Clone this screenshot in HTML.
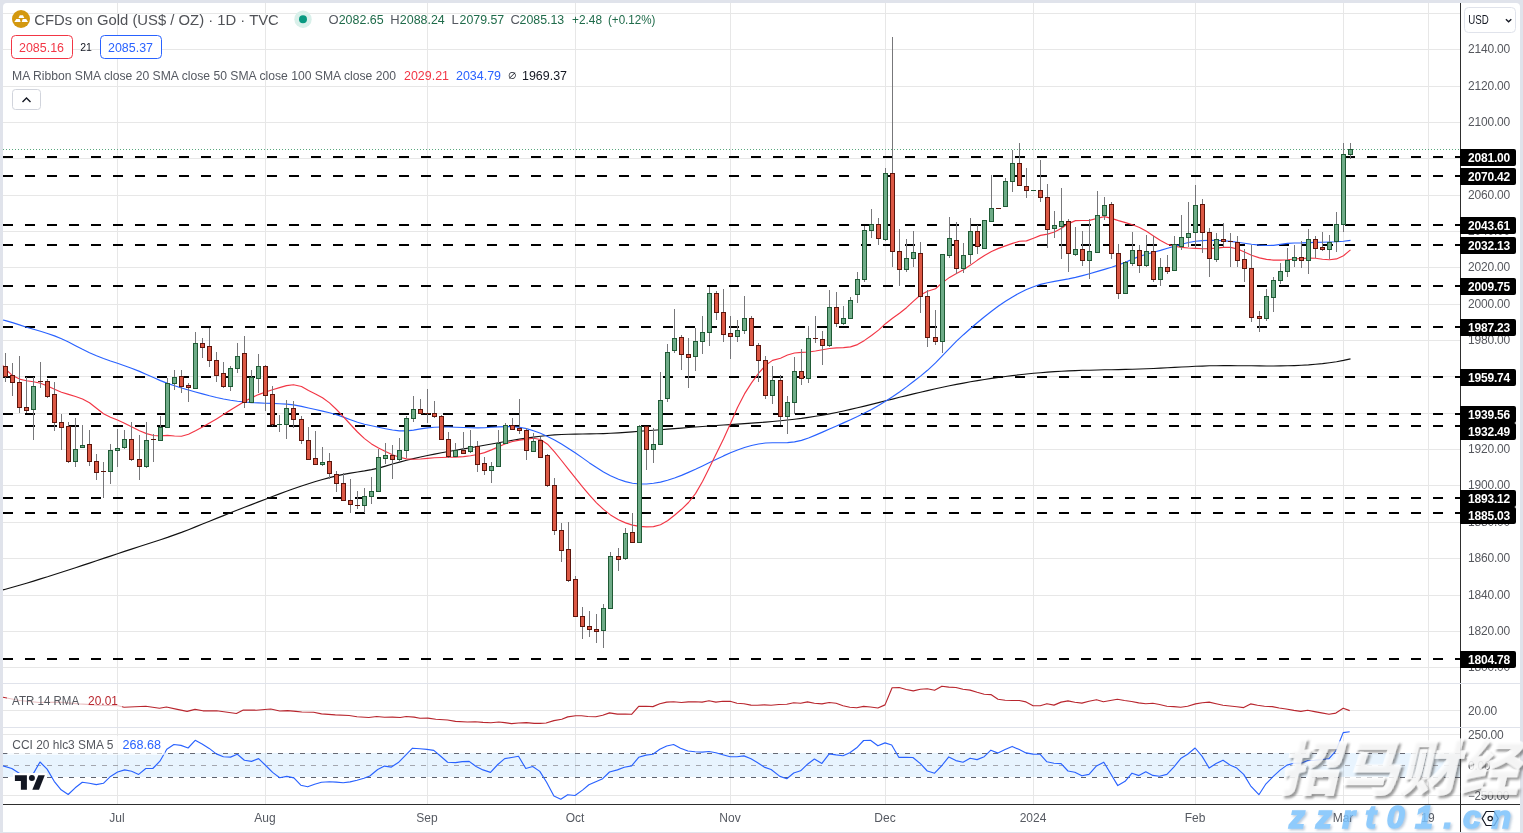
<!DOCTYPE html>
<html><head><meta charset="utf-8"><title>CFDs on Gold (US$ / OZ) 1D TVC</title>
<style>
html,body{margin:0;padding:0;background:#e0e3eb;}
body{width:1523px;height:833px;overflow:hidden;position:relative;font-family:"Liberation Sans","Noto Sans CJK SC",sans-serif;}
svg{position:absolute;left:0;top:0;display:block}
svg text{font-family:"Liberation Sans","Noto Sans CJK SC",sans-serif;}
.al{font-size:12px;fill:#55575d;letter-spacing:-0.2px}
.bl{font-size:12px;fill:#fff;font-weight:bold;letter-spacing:-0.2px}
.tl{font-size:12px;fill:#555961}
.lg{font-size:12px;fill:#54575e}
</style></head><body>
<svg width="1523" height="833" viewBox="0 0 1523 833">
<rect x="0" y="0" width="1523" height="833" fill="#e0e3eb"/>
<path d="M3 7a4 4 0 0 1 4 -4h1509a4 4 0 0 1 4 4v825h-1517z" fill="#fff"/>
<g shape-rendering="crispEdges">
<rect x="3" y="667" width="1457" height="1" fill="#e7e7e7"/>
<rect x="3" y="631" width="1457" height="1" fill="#e7e7e7"/>
<rect x="3" y="595" width="1457" height="1" fill="#e7e7e7"/>
<rect x="3" y="558" width="1457" height="1" fill="#e7e7e7"/>
<rect x="3" y="522" width="1457" height="1" fill="#e7e7e7"/>
<rect x="3" y="485" width="1457" height="1" fill="#e7e7e7"/>
<rect x="3" y="449" width="1457" height="1" fill="#e7e7e7"/>
<rect x="3" y="413" width="1457" height="1" fill="#e7e7e7"/>
<rect x="3" y="376" width="1457" height="1" fill="#e7e7e7"/>
<rect x="3" y="340" width="1457" height="1" fill="#e7e7e7"/>
<rect x="3" y="304" width="1457" height="1" fill="#e7e7e7"/>
<rect x="3" y="267" width="1457" height="1" fill="#e7e7e7"/>
<rect x="3" y="231" width="1457" height="1" fill="#e7e7e7"/>
<rect x="3" y="195" width="1457" height="1" fill="#e7e7e7"/>
<rect x="3" y="158" width="1457" height="1" fill="#e7e7e7"/>
<rect x="3" y="122" width="1457" height="1" fill="#e7e7e7"/>
<rect x="3" y="86" width="1457" height="1" fill="#e7e7e7"/>
<rect x="3" y="49" width="1457" height="1" fill="#e7e7e7"/>
<rect x="3" y="13" width="1457" height="1" fill="#e7e7e7"/>
<rect x="117" y="3" width="1" height="801" fill="#e7e7e7"/>
<rect x="265" y="3" width="1" height="801" fill="#e7e7e7"/>
<rect x="427" y="3" width="1" height="801" fill="#e7e7e7"/>
<rect x="575" y="3" width="1" height="801" fill="#e7e7e7"/>
<rect x="730" y="3" width="1" height="801" fill="#e7e7e7"/>
<rect x="885" y="3" width="1" height="801" fill="#e7e7e7"/>
<rect x="1033" y="3" width="1" height="801" fill="#e7e7e7"/>
<rect x="1195" y="3" width="1" height="801" fill="#e7e7e7"/>
<rect x="1343" y="3" width="1" height="801" fill="#e7e7e7"/>
<rect x="1428" y="3" width="1" height="801" fill="#e7e7e7"/>
<rect x="3" y="710" width="1457" height="1" fill="#e7e7e7"/>
<rect x="3" y="734" width="1457" height="1" fill="#e7e7e7"/>
<rect x="3" y="795" width="1457" height="1" fill="#e7e7e7"/>
</g>
<!-- CCI band -->
<rect x="3" y="753" width="1457" height="24" fill="#2196f3" fill-opacity="0.1"/>
<g stroke-width="1" stroke-dasharray="5 6" shape-rendering="crispEdges">
<line x1="3" y1="753.5" x2="1460" y2="753.5" stroke="#666974"/><line x1="3" y1="765.5" x2="1460" y2="765.5" stroke="#a3a6ae"/><line x1="3" y1="777.5" x2="1460" y2="777.5" stroke="#5f626d"/>
</g>
<line x1="3" y1="149.5" x2="1460" y2="149.5" stroke="#5aa87e" stroke-width="1" stroke-dasharray="1 2" shape-rendering="crispEdges"/>
<line x1="3" y1="659" x2="1460" y2="659" stroke="#000" stroke-width="2" stroke-dasharray="10 12" shape-rendering="crispEdges"/>
<line x1="3" y1="513" x2="1460" y2="513" stroke="#000" stroke-width="2" stroke-dasharray="10 12" shape-rendering="crispEdges"/>
<line x1="3" y1="498" x2="1460" y2="498" stroke="#000" stroke-width="2" stroke-dasharray="10 12" shape-rendering="crispEdges"/>
<line x1="3" y1="426" x2="1460" y2="426" stroke="#000" stroke-width="2" stroke-dasharray="10 12" shape-rendering="crispEdges"/>
<line x1="3" y1="414" x2="1460" y2="414" stroke="#000" stroke-width="2" stroke-dasharray="10 12" shape-rendering="crispEdges"/>
<line x1="3" y1="377" x2="1460" y2="377" stroke="#000" stroke-width="2" stroke-dasharray="10 12" shape-rendering="crispEdges"/>
<line x1="3" y1="327" x2="1460" y2="327" stroke="#000" stroke-width="2" stroke-dasharray="10 12" shape-rendering="crispEdges"/>
<line x1="3" y1="286" x2="1460" y2="286" stroke="#000" stroke-width="2" stroke-dasharray="10 12" shape-rendering="crispEdges"/>
<line x1="3" y1="245" x2="1460" y2="245" stroke="#000" stroke-width="2" stroke-dasharray="10 12" shape-rendering="crispEdges"/>
<line x1="3" y1="225" x2="1460" y2="225" stroke="#000" stroke-width="2" stroke-dasharray="10 12" shape-rendering="crispEdges"/>
<line x1="3" y1="176" x2="1460" y2="176" stroke="#000" stroke-width="2" stroke-dasharray="10 12" shape-rendering="crispEdges"/>
<line x1="3" y1="157" x2="1460" y2="157" stroke="#000" stroke-width="2" stroke-dasharray="10 12" shape-rendering="crispEdges"/>
<polyline points="3.0,589.9 5.5,589.2 12.5,587.2 19.5,585.2 26.5,583.2 33.5,581.1 40.5,578.9 47.5,576.8 54.5,574.5 61.5,572.3 68.5,570.0 75.5,567.7 82.5,565.4 89.5,563.1 96.5,560.8 103.5,558.4 110.5,556.1 117.5,553.8 124.5,551.4 131.5,549.1 139.5,546.5 146.5,544.2 153.5,542.0 160.5,539.7 167.5,537.4 174.5,534.9 181.5,532.4 188.5,529.7 195.5,526.9 202.5,524.0 209.5,521.2 216.5,518.4 223.5,515.6 230.5,512.8 237.5,510.0 244.5,507.3 251.5,504.6 258.5,501.9 265.5,499.2 272.5,496.5 279.5,493.9 286.5,491.3 293.5,488.8 301.5,486.0 308.5,483.7 315.5,481.5 322.5,479.5 329.5,477.6 336.5,475.9 343.5,474.4 350.5,473.1 357.5,472.0 364.5,470.9 371.5,469.6 378.5,468.1 385.5,466.1 392.5,464.0 399.5,462.1 406.5,460.3 413.5,458.6 420.5,457.0 427.5,455.5 434.5,454.1 441.5,452.8 448.5,451.5 455.5,450.3 463.5,448.9 470.5,447.7 477.5,446.5 484.5,445.2 491.5,444.0 498.5,442.7 505.5,441.5 512.5,440.3 519.5,439.1 526.5,438.1 533.5,437.1 540.5,436.2 547.5,435.5 554.5,434.9 561.5,434.5 568.5,434.3 575.5,434.1 582.5,434.0 589.5,433.9 596.5,433.8 603.5,433.6 610.5,433.3 618.5,432.9 625.5,432.4 632.5,431.9 639.5,431.3 646.5,430.8 653.5,430.2 660.5,429.7 667.5,429.1 674.5,428.6 681.5,428.1 688.5,427.5 695.5,427.0 702.5,426.5 709.5,426.0 716.5,425.5 723.5,425.0 730.5,424.6 737.5,424.1 744.5,423.6 751.5,423.1 758.5,422.6 765.5,422.1 772.5,421.5 780.5,420.7 787.5,420.0 794.5,419.2 801.5,418.4 808.5,417.4 815.5,416.3 822.5,415.2 829.5,413.9 836.5,412.5 843.5,411.0 850.5,409.4 857.5,407.8 864.5,406.1 871.5,404.4 878.5,402.6 885.5,400.8 892.5,399.1 899.5,397.3 906.5,395.6 913.5,393.9 920.5,392.2 927.5,390.6 935.5,388.8 942.5,387.3 949.5,385.8 956.5,384.4 963.5,383.1 970.5,381.8 977.5,380.6 984.5,379.5 991.5,378.4 998.5,377.4 1005.5,376.5 1012.5,375.6 1019.5,374.8 1026.5,374.0 1033.5,373.3 1040.5,372.7 1047.5,372.1 1054.5,371.6 1061.5,371.2 1068.5,370.9 1075.5,370.6 1082.5,370.3 1089.5,370.2 1097.5,370.0 1104.5,369.8 1111.5,369.7 1118.5,369.6 1125.5,369.4 1132.5,369.2 1139.5,369.0 1146.5,368.8 1153.5,368.5 1160.5,368.1 1167.5,367.8 1174.5,367.4 1181.5,367.0 1188.5,366.7 1195.5,366.3 1202.5,366.1 1209.5,365.8 1216.5,365.7 1223.5,365.6 1230.5,365.6 1237.5,365.7 1244.5,365.7 1251.5,365.8 1259.5,365.9 1266.5,366.0 1273.5,366.0 1280.5,365.9 1287.5,365.8 1294.5,365.6 1301.5,365.3 1308.5,364.9 1315.5,364.3 1322.5,363.6 1329.5,362.7 1336.5,361.7 1343.5,360.4 1350.5,358.9" fill="none" stroke="#111" stroke-width="1.15" stroke-linejoin="round" />
<polyline points="3.0,320.0 5.5,320.6 12.5,322.6 19.5,324.9 26.5,327.2 33.5,329.3 40.5,331.3 47.5,333.5 54.5,335.9 61.5,338.8 68.5,342.1 75.5,345.7 82.5,349.3 89.5,352.7 96.5,355.7 103.5,358.5 110.5,361.0 117.5,363.3 124.5,365.7 131.5,368.2 139.5,371.4 146.5,374.5 153.5,377.5 160.5,380.6 167.5,383.4 174.5,385.8 181.5,388.0 188.5,390.0 195.5,392.0 202.5,393.9 209.5,395.8 216.5,397.5 223.5,399.0 230.5,400.3 237.5,401.3 244.5,402.0 251.5,402.6 258.5,402.9 265.5,403.2 272.5,403.4 279.5,403.7 286.5,404.1 293.5,404.9 301.5,406.4 308.5,408.0 315.5,409.5 322.5,411.1 329.5,412.8 336.5,414.7 343.5,417.1 350.5,419.7 357.5,422.2 364.5,424.2 371.5,425.8 378.5,427.3 385.5,428.7 392.5,430.0 399.5,430.9 406.5,430.9 413.5,430.1 420.5,428.9 427.5,427.9 434.5,427.2 441.5,427.0 448.5,427.0 455.5,427.2 463.5,427.5 470.5,427.8 477.5,427.9 484.5,427.7 491.5,427.3 498.5,426.9 505.5,426.6 512.5,426.7 519.5,427.3 526.5,428.6 533.5,430.7 540.5,433.3 547.5,436.5 554.5,440.1 561.5,444.1 568.5,448.4 575.5,453.1 582.5,457.9 589.5,462.9 596.5,467.6 603.5,472.0 610.5,475.8 618.5,479.3 625.5,481.6 632.5,483.2 639.5,484.0 646.5,484.0 653.5,483.3 660.5,482.1 667.5,480.3 674.5,478.0 681.5,475.4 688.5,472.4 695.5,469.3 702.5,465.9 709.5,462.6 716.5,459.2 723.5,455.9 730.5,452.8 737.5,450.0 744.5,447.5 751.5,445.5 758.5,444.0 765.5,443.0 772.5,442.7 780.5,442.7 787.5,442.6 794.5,441.9 801.5,440.4 808.5,438.0 815.5,435.1 822.5,432.1 829.5,429.0 836.5,426.0 843.5,422.9 850.5,419.8 857.5,416.5 864.5,413.0 871.5,409.4 878.5,405.5 885.5,401.3 892.5,396.8 899.5,392.0 906.5,386.9 913.5,381.5 920.5,376.1 927.5,370.3 935.5,362.9 942.5,355.7 949.5,348.3 956.5,341.2 963.5,334.7 970.5,328.5 977.5,322.5 984.5,316.7 991.5,311.2 998.5,306.0 1005.5,301.2 1012.5,296.9 1019.5,292.9 1026.5,289.5 1033.5,286.7 1040.5,284.4 1047.5,282.7 1054.5,281.4 1061.5,280.1 1068.5,278.9 1075.5,277.4 1082.5,275.6 1089.5,273.7 1097.5,271.4 1104.5,269.4 1111.5,267.3 1118.5,264.9 1125.5,262.2 1132.5,259.1 1139.5,256.4 1146.5,254.2 1153.5,252.3 1160.5,250.4 1167.5,248.3 1174.5,246.2 1181.5,244.2 1188.5,242.5 1195.5,241.3 1202.5,240.6 1209.5,240.3 1216.5,240.4 1223.5,240.8 1230.5,241.4 1237.5,242.2 1244.5,243.2 1251.5,244.2 1259.5,245.1 1266.5,245.5 1273.5,245.4 1280.5,244.4 1287.5,243.4 1294.5,243.0 1301.5,242.9 1308.5,242.6 1315.5,242.4 1322.5,242.2 1329.5,242.0 1336.5,241.8 1343.5,241.3 1350.5,240.4" fill="none" stroke="#2962ff" stroke-width="1.15" stroke-linejoin="round" />
<polyline points="3.0,365.6 5.5,369.0 12.5,375.6 19.5,379.1 26.5,380.7 33.5,381.7 40.5,383.2 47.5,386.0 54.5,389.3 61.5,392.2 68.5,394.4 75.5,396.5 82.5,399.0 89.5,402.8 96.5,408.3 103.5,413.7 110.5,417.2 117.5,420.0 124.5,423.2 131.5,426.8 139.5,430.7 146.5,433.6 153.5,435.5 160.5,435.9 167.5,435.4 174.5,436.0 181.5,436.2 188.5,434.2 195.5,430.7 202.5,427.0 209.5,423.0 216.5,418.9 223.5,414.6 230.5,410.1 237.5,405.7 244.5,401.5 251.5,397.8 258.5,394.6 265.5,392.0 272.5,389.7 279.5,387.6 286.5,385.6 293.5,384.7 301.5,386.5 308.5,390.5 315.5,393.9 322.5,397.7 329.5,402.9 336.5,409.5 343.5,416.8 350.5,424.5 357.5,432.0 364.5,438.6 371.5,443.9 378.5,448.0 385.5,451.5 392.5,454.7 399.5,457.3 406.5,458.9 413.5,459.3 420.5,459.0 427.5,458.4 434.5,457.8 441.5,457.5 448.5,457.3 455.5,457.1 463.5,456.6 470.5,455.8 477.5,454.5 484.5,452.6 491.5,449.9 498.5,446.8 505.5,443.7 512.5,441.5 519.5,440.1 526.5,439.1 533.5,438.3 540.5,439.5 547.5,444.2 554.5,451.9 561.5,460.5 568.5,469.3 575.5,478.2 582.5,486.9 589.5,495.2 596.5,502.8 603.5,509.4 610.5,514.9 618.5,519.8 625.5,522.9 632.5,525.1 639.5,526.4 646.5,526.9 653.5,526.6 660.5,524.7 667.5,520.8 674.5,515.3 681.5,509.3 688.5,502.5 695.5,493.6 702.5,481.5 709.5,467.4 716.5,453.2 723.5,438.9 730.5,423.5 737.5,407.5 744.5,393.9 751.5,382.9 758.5,373.4 765.5,365.4 772.5,360.4 780.5,358.2 787.5,355.0 794.5,353.0 801.5,352.4 808.5,352.0 815.5,351.0 822.5,349.7 829.5,348.5 836.5,347.9 843.5,347.6 850.5,346.9 857.5,344.6 864.5,340.4 871.5,335.5 878.5,330.1 885.5,323.7 892.5,318.2 899.5,313.2 906.5,307.7 913.5,301.1 920.5,295.0 927.5,291.3 935.5,288.7 942.5,282.6 949.5,277.4 956.5,273.6 963.5,269.7 970.5,265.1 977.5,260.1 984.5,255.4 991.5,251.5 998.5,248.4 1005.5,245.9 1012.5,243.4 1019.5,241.3 1026.5,240.9 1033.5,238.2 1040.5,235.4 1047.5,234.1 1054.5,232.0 1061.5,228.2 1068.5,223.6 1075.5,220.6 1082.5,220.5 1089.5,220.4 1097.5,218.2 1104.5,216.6 1111.5,218.4 1118.5,220.6 1125.5,222.6 1132.5,224.8 1139.5,227.5 1146.5,231.3 1153.5,235.9 1160.5,240.6 1167.5,244.3 1174.5,246.3 1181.5,247.4 1188.5,248.0 1195.5,248.4 1202.5,248.7 1209.5,248.6 1216.5,248.1 1223.5,247.4 1230.5,247.4 1237.5,249.0 1244.5,252.0 1251.5,255.2 1259.5,257.9 1266.5,259.4 1273.5,260.1 1280.5,260.1 1287.5,259.7 1294.5,259.0 1301.5,258.5 1308.5,258.1 1315.5,258.3 1322.5,259.2 1329.5,259.8 1336.5,258.9 1343.5,255.7 1350.5,249.9" fill="none" stroke="#f23645" stroke-width="1.15" stroke-linejoin="round" />
<g shape-rendering="crispEdges">
<rect x="5" y="353" width="1" height="29" fill="#77777a"/>
<rect x="3" y="366" width="5" height="11" fill="#5c150c"/>
<rect x="4" y="367" width="3" height="9" fill="#dc5844"/>
<rect x="12" y="363" width="1" height="33" fill="#77777a"/>
<rect x="10" y="375" width="5" height="8" fill="#5c150c"/>
<rect x="11" y="376" width="3" height="6" fill="#dc5844"/>
<rect x="19" y="356" width="1" height="57" fill="#77777a"/>
<rect x="17" y="382" width="5" height="26" fill="#5c150c"/>
<rect x="18" y="383" width="3" height="24" fill="#dc5844"/>
<rect x="26" y="377" width="1" height="36" fill="#77777a"/>
<rect x="24" y="407" width="5" height="4" fill="#5c150c"/>
<rect x="25" y="408" width="3" height="2" fill="#dc5844"/>
<rect x="33" y="377" width="1" height="63" fill="#77777a"/>
<rect x="31" y="386" width="5" height="24" fill="#1f5a35"/>
<rect x="32" y="387" width="3" height="22" fill="#6eab87"/>
<rect x="40" y="362" width="1" height="26" fill="#77777a"/>
<rect x="38" y="381" width="5" height="1" fill="#5c150c"/>
<rect x="47" y="379" width="1" height="19" fill="#77777a"/>
<rect x="45" y="381" width="5" height="16" fill="#5c150c"/>
<rect x="46" y="382" width="3" height="14" fill="#dc5844"/>
<rect x="54" y="382" width="1" height="49" fill="#77777a"/>
<rect x="52" y="394" width="5" height="29" fill="#5c150c"/>
<rect x="53" y="395" width="3" height="27" fill="#dc5844"/>
<rect x="61" y="414" width="1" height="36" fill="#77777a"/>
<rect x="59" y="422" width="5" height="6" fill="#5c150c"/>
<rect x="60" y="423" width="3" height="4" fill="#dc5844"/>
<rect x="68" y="422" width="1" height="41" fill="#77777a"/>
<rect x="66" y="426" width="5" height="36" fill="#5c150c"/>
<rect x="67" y="427" width="3" height="34" fill="#dc5844"/>
<rect x="75" y="418" width="1" height="49" fill="#77777a"/>
<rect x="73" y="449" width="5" height="13" fill="#1f5a35"/>
<rect x="74" y="450" width="3" height="11" fill="#6eab87"/>
<rect x="82" y="425" width="1" height="23" fill="#77777a"/>
<rect x="80" y="445" width="5" height="3" fill="#1f5a35"/>
<rect x="81" y="446" width="3" height="1" fill="#6eab87"/>
<rect x="89" y="430" width="1" height="36" fill="#77777a"/>
<rect x="87" y="444" width="5" height="18" fill="#5c150c"/>
<rect x="88" y="445" width="3" height="16" fill="#dc5844"/>
<rect x="96" y="454" width="1" height="26" fill="#77777a"/>
<rect x="94" y="461" width="5" height="12" fill="#5c150c"/>
<rect x="95" y="462" width="3" height="10" fill="#dc5844"/>
<rect x="103" y="462" width="1" height="36" fill="#77777a"/>
<rect x="101" y="471" width="5" height="1" fill="#5c150c"/>
<rect x="110" y="444" width="1" height="40" fill="#77777a"/>
<rect x="108" y="450" width="5" height="22" fill="#1f5a35"/>
<rect x="109" y="451" width="3" height="20" fill="#6eab87"/>
<rect x="117" y="429" width="1" height="38" fill="#77777a"/>
<rect x="115" y="448" width="5" height="3" fill="#1f5a35"/>
<rect x="116" y="449" width="3" height="1" fill="#6eab87"/>
<rect x="124" y="430" width="1" height="19" fill="#77777a"/>
<rect x="122" y="439" width="5" height="9" fill="#1f5a35"/>
<rect x="123" y="440" width="3" height="7" fill="#6eab87"/>
<rect x="131" y="422" width="1" height="39" fill="#77777a"/>
<rect x="129" y="439" width="5" height="21" fill="#5c150c"/>
<rect x="130" y="440" width="3" height="19" fill="#dc5844"/>
<rect x="139" y="435" width="1" height="45" fill="#77777a"/>
<rect x="137" y="459" width="5" height="8" fill="#5c150c"/>
<rect x="138" y="460" width="3" height="6" fill="#dc5844"/>
<rect x="146" y="422" width="1" height="46" fill="#77777a"/>
<rect x="144" y="440" width="5" height="27" fill="#1f5a35"/>
<rect x="145" y="441" width="3" height="25" fill="#6eab87"/>
<rect x="153" y="434" width="1" height="28" fill="#77777a"/>
<rect x="151" y="439" width="5" height="1" fill="#5c150c"/>
<rect x="160" y="416" width="1" height="25" fill="#77777a"/>
<rect x="158" y="427" width="5" height="14" fill="#1f5a35"/>
<rect x="159" y="428" width="3" height="12" fill="#6eab87"/>
<rect x="167" y="378" width="1" height="50" fill="#77777a"/>
<rect x="165" y="383" width="5" height="45" fill="#1f5a35"/>
<rect x="166" y="384" width="3" height="43" fill="#6eab87"/>
<rect x="174" y="370" width="1" height="20" fill="#77777a"/>
<rect x="172" y="377" width="5" height="7" fill="#1f5a35"/>
<rect x="173" y="378" width="3" height="5" fill="#6eab87"/>
<rect x="181" y="370" width="1" height="23" fill="#77777a"/>
<rect x="179" y="376" width="5" height="11" fill="#5c150c"/>
<rect x="180" y="377" width="3" height="9" fill="#dc5844"/>
<rect x="188" y="383" width="1" height="19" fill="#77777a"/>
<rect x="186" y="385" width="5" height="3" fill="#5c150c"/>
<rect x="187" y="386" width="3" height="1" fill="#dc5844"/>
<rect x="195" y="332" width="1" height="57" fill="#77777a"/>
<rect x="193" y="343" width="5" height="46" fill="#1f5a35"/>
<rect x="194" y="344" width="3" height="44" fill="#6eab87"/>
<rect x="202" y="338" width="1" height="20" fill="#77777a"/>
<rect x="200" y="343" width="5" height="5" fill="#5c150c"/>
<rect x="201" y="344" width="3" height="3" fill="#dc5844"/>
<rect x="209" y="328" width="1" height="39" fill="#77777a"/>
<rect x="207" y="346" width="5" height="15" fill="#5c150c"/>
<rect x="208" y="347" width="3" height="13" fill="#dc5844"/>
<rect x="216" y="352" width="1" height="30" fill="#77777a"/>
<rect x="214" y="360" width="5" height="16" fill="#5c150c"/>
<rect x="215" y="361" width="3" height="14" fill="#dc5844"/>
<rect x="223" y="362" width="1" height="26" fill="#77777a"/>
<rect x="221" y="373" width="5" height="14" fill="#5c150c"/>
<rect x="222" y="374" width="3" height="12" fill="#dc5844"/>
<rect x="230" y="366" width="1" height="25" fill="#77777a"/>
<rect x="228" y="368" width="5" height="19" fill="#1f5a35"/>
<rect x="229" y="369" width="3" height="17" fill="#6eab87"/>
<rect x="237" y="343" width="1" height="30" fill="#77777a"/>
<rect x="235" y="356" width="5" height="13" fill="#1f5a35"/>
<rect x="236" y="357" width="3" height="11" fill="#6eab87"/>
<rect x="244" y="336" width="1" height="72" fill="#77777a"/>
<rect x="242" y="353" width="5" height="50" fill="#5c150c"/>
<rect x="243" y="354" width="3" height="48" fill="#dc5844"/>
<rect x="251" y="370" width="1" height="33" fill="#77777a"/>
<rect x="249" y="377" width="5" height="26" fill="#1f5a35"/>
<rect x="250" y="378" width="3" height="24" fill="#6eab87"/>
<rect x="258" y="354" width="1" height="39" fill="#77777a"/>
<rect x="256" y="366" width="5" height="13" fill="#1f5a35"/>
<rect x="257" y="367" width="3" height="11" fill="#6eab87"/>
<rect x="265" y="365" width="1" height="46" fill="#77777a"/>
<rect x="263" y="366" width="5" height="30" fill="#5c150c"/>
<rect x="264" y="367" width="3" height="28" fill="#dc5844"/>
<rect x="272" y="386" width="1" height="40" fill="#77777a"/>
<rect x="270" y="394" width="5" height="31" fill="#5c150c"/>
<rect x="271" y="395" width="3" height="29" fill="#dc5844"/>
<rect x="279" y="415" width="1" height="17" fill="#77777a"/>
<rect x="277" y="424" width="5" height="1" fill="#1f5a35"/>
<rect x="286" y="400" width="1" height="39" fill="#77777a"/>
<rect x="284" y="408" width="5" height="17" fill="#1f5a35"/>
<rect x="285" y="409" width="3" height="15" fill="#6eab87"/>
<rect x="293" y="401" width="1" height="27" fill="#77777a"/>
<rect x="291" y="408" width="5" height="12" fill="#5c150c"/>
<rect x="292" y="409" width="3" height="10" fill="#dc5844"/>
<rect x="301" y="416" width="1" height="28" fill="#77777a"/>
<rect x="299" y="419" width="5" height="22" fill="#5c150c"/>
<rect x="300" y="420" width="3" height="20" fill="#dc5844"/>
<rect x="308" y="427" width="1" height="33" fill="#77777a"/>
<rect x="306" y="440" width="5" height="20" fill="#5c150c"/>
<rect x="307" y="441" width="3" height="18" fill="#dc5844"/>
<rect x="315" y="431" width="1" height="34" fill="#77777a"/>
<rect x="313" y="458" width="5" height="7" fill="#5c150c"/>
<rect x="314" y="459" width="3" height="5" fill="#dc5844"/>
<rect x="322" y="447" width="1" height="19" fill="#77777a"/>
<rect x="320" y="462" width="5" height="3" fill="#1f5a35"/>
<rect x="321" y="463" width="3" height="1" fill="#6eab87"/>
<rect x="329" y="453" width="1" height="26" fill="#77777a"/>
<rect x="327" y="461" width="5" height="13" fill="#5c150c"/>
<rect x="328" y="462" width="3" height="11" fill="#dc5844"/>
<rect x="336" y="471" width="1" height="21" fill="#77777a"/>
<rect x="334" y="474" width="5" height="10" fill="#5c150c"/>
<rect x="335" y="475" width="3" height="8" fill="#dc5844"/>
<rect x="343" y="473" width="1" height="28" fill="#77777a"/>
<rect x="341" y="483" width="5" height="18" fill="#5c150c"/>
<rect x="342" y="484" width="3" height="16" fill="#dc5844"/>
<rect x="350" y="479" width="1" height="34" fill="#77777a"/>
<rect x="348" y="500" width="5" height="5" fill="#5c150c"/>
<rect x="349" y="501" width="3" height="3" fill="#dc5844"/>
<rect x="357" y="491" width="1" height="18" fill="#77777a"/>
<rect x="355" y="505" width="5" height="1" fill="#5c150c"/>
<rect x="364" y="488" width="1" height="25" fill="#77777a"/>
<rect x="362" y="496" width="5" height="10" fill="#1f5a35"/>
<rect x="363" y="497" width="3" height="8" fill="#6eab87"/>
<rect x="371" y="477" width="1" height="27" fill="#77777a"/>
<rect x="369" y="491" width="5" height="6" fill="#1f5a35"/>
<rect x="370" y="492" width="3" height="4" fill="#6eab87"/>
<rect x="378" y="449" width="1" height="43" fill="#77777a"/>
<rect x="376" y="457" width="5" height="35" fill="#1f5a35"/>
<rect x="377" y="458" width="3" height="33" fill="#6eab87"/>
<rect x="385" y="443" width="1" height="21" fill="#77777a"/>
<rect x="383" y="455" width="5" height="4" fill="#1f5a35"/>
<rect x="384" y="456" width="3" height="2" fill="#6eab87"/>
<rect x="392" y="445" width="1" height="34" fill="#77777a"/>
<rect x="390" y="455" width="5" height="5" fill="#5c150c"/>
<rect x="391" y="456" width="3" height="3" fill="#dc5844"/>
<rect x="399" y="438" width="1" height="23" fill="#77777a"/>
<rect x="397" y="450" width="5" height="10" fill="#1f5a35"/>
<rect x="398" y="451" width="3" height="8" fill="#6eab87"/>
<rect x="406" y="416" width="1" height="42" fill="#77777a"/>
<rect x="404" y="418" width="5" height="33" fill="#1f5a35"/>
<rect x="405" y="419" width="3" height="31" fill="#6eab87"/>
<rect x="413" y="396" width="1" height="26" fill="#77777a"/>
<rect x="411" y="409" width="5" height="10" fill="#1f5a35"/>
<rect x="412" y="410" width="3" height="8" fill="#6eab87"/>
<rect x="420" y="399" width="1" height="15" fill="#77777a"/>
<rect x="418" y="409" width="5" height="5" fill="#5c150c"/>
<rect x="419" y="410" width="3" height="3" fill="#dc5844"/>
<rect x="427" y="389" width="1" height="34" fill="#77777a"/>
<rect x="425" y="413" width="5" height="1" fill="#5c150c"/>
<rect x="434" y="401" width="1" height="17" fill="#77777a"/>
<rect x="432" y="413" width="5" height="4" fill="#5c150c"/>
<rect x="433" y="414" width="3" height="2" fill="#dc5844"/>
<rect x="441" y="415" width="1" height="25" fill="#77777a"/>
<rect x="439" y="416" width="5" height="24" fill="#5c150c"/>
<rect x="440" y="417" width="3" height="22" fill="#dc5844"/>
<rect x="448" y="432" width="1" height="26" fill="#77777a"/>
<rect x="446" y="439" width="5" height="18" fill="#5c150c"/>
<rect x="447" y="440" width="3" height="16" fill="#dc5844"/>
<rect x="455" y="443" width="1" height="14" fill="#77777a"/>
<rect x="453" y="450" width="5" height="7" fill="#1f5a35"/>
<rect x="454" y="451" width="3" height="5" fill="#6eab87"/>
<rect x="463" y="432" width="1" height="22" fill="#77777a"/>
<rect x="461" y="450" width="5" height="4" fill="#5c150c"/>
<rect x="462" y="451" width="3" height="2" fill="#dc5844"/>
<rect x="470" y="430" width="1" height="23" fill="#77777a"/>
<rect x="468" y="446" width="5" height="6" fill="#1f5a35"/>
<rect x="469" y="447" width="3" height="4" fill="#6eab87"/>
<rect x="477" y="441" width="1" height="31" fill="#77777a"/>
<rect x="475" y="446" width="5" height="19" fill="#5c150c"/>
<rect x="476" y="447" width="3" height="17" fill="#dc5844"/>
<rect x="484" y="457" width="1" height="18" fill="#77777a"/>
<rect x="482" y="463" width="5" height="8" fill="#5c150c"/>
<rect x="483" y="464" width="3" height="6" fill="#dc5844"/>
<rect x="491" y="462" width="1" height="21" fill="#77777a"/>
<rect x="489" y="466" width="5" height="5" fill="#1f5a35"/>
<rect x="490" y="467" width="3" height="3" fill="#6eab87"/>
<rect x="498" y="430" width="1" height="37" fill="#77777a"/>
<rect x="496" y="443" width="5" height="24" fill="#1f5a35"/>
<rect x="497" y="444" width="3" height="22" fill="#6eab87"/>
<rect x="505" y="423" width="1" height="21" fill="#77777a"/>
<rect x="503" y="425" width="5" height="19" fill="#1f5a35"/>
<rect x="504" y="426" width="3" height="17" fill="#6eab87"/>
<rect x="512" y="418" width="1" height="12" fill="#77777a"/>
<rect x="510" y="425" width="5" height="5" fill="#5c150c"/>
<rect x="511" y="426" width="3" height="3" fill="#dc5844"/>
<rect x="519" y="399" width="1" height="35" fill="#77777a"/>
<rect x="517" y="428" width="5" height="3" fill="#5c150c"/>
<rect x="518" y="429" width="3" height="1" fill="#dc5844"/>
<rect x="526" y="428" width="1" height="32" fill="#77777a"/>
<rect x="524" y="430" width="5" height="21" fill="#5c150c"/>
<rect x="525" y="431" width="3" height="19" fill="#dc5844"/>
<rect x="533" y="433" width="1" height="19" fill="#77777a"/>
<rect x="531" y="441" width="5" height="11" fill="#1f5a35"/>
<rect x="532" y="442" width="3" height="9" fill="#6eab87"/>
<rect x="540" y="437" width="1" height="21" fill="#77777a"/>
<rect x="538" y="440" width="5" height="18" fill="#5c150c"/>
<rect x="539" y="441" width="3" height="16" fill="#dc5844"/>
<rect x="547" y="454" width="1" height="33" fill="#77777a"/>
<rect x="545" y="455" width="5" height="31" fill="#5c150c"/>
<rect x="546" y="456" width="3" height="29" fill="#dc5844"/>
<rect x="554" y="478" width="1" height="57" fill="#77777a"/>
<rect x="552" y="485" width="5" height="46" fill="#5c150c"/>
<rect x="553" y="486" width="3" height="44" fill="#dc5844"/>
<rect x="561" y="523" width="1" height="39" fill="#77777a"/>
<rect x="559" y="530" width="5" height="21" fill="#5c150c"/>
<rect x="560" y="531" width="3" height="19" fill="#dc5844"/>
<rect x="568" y="522" width="1" height="60" fill="#77777a"/>
<rect x="566" y="549" width="5" height="32" fill="#5c150c"/>
<rect x="567" y="550" width="3" height="30" fill="#dc5844"/>
<rect x="575" y="576" width="1" height="41" fill="#77777a"/>
<rect x="573" y="579" width="5" height="38" fill="#5c150c"/>
<rect x="574" y="580" width="3" height="36" fill="#dc5844"/>
<rect x="582" y="607" width="1" height="32" fill="#77777a"/>
<rect x="580" y="616" width="5" height="11" fill="#5c150c"/>
<rect x="581" y="617" width="3" height="9" fill="#dc5844"/>
<rect x="589" y="611" width="1" height="26" fill="#77777a"/>
<rect x="587" y="626" width="5" height="4" fill="#5c150c"/>
<rect x="588" y="627" width="3" height="2" fill="#dc5844"/>
<rect x="596" y="614" width="1" height="29" fill="#77777a"/>
<rect x="594" y="629" width="5" height="3" fill="#5c150c"/>
<rect x="595" y="630" width="3" height="1" fill="#dc5844"/>
<rect x="603" y="604" width="1" height="44" fill="#77777a"/>
<rect x="601" y="608" width="5" height="23" fill="#1f5a35"/>
<rect x="602" y="609" width="3" height="21" fill="#6eab87"/>
<rect x="610" y="552" width="1" height="57" fill="#77777a"/>
<rect x="608" y="556" width="5" height="53" fill="#1f5a35"/>
<rect x="609" y="557" width="3" height="51" fill="#6eab87"/>
<rect x="618" y="548" width="1" height="23" fill="#77777a"/>
<rect x="616" y="556" width="5" height="4" fill="#5c150c"/>
<rect x="617" y="557" width="3" height="2" fill="#dc5844"/>
<rect x="625" y="528" width="1" height="32" fill="#77777a"/>
<rect x="623" y="533" width="5" height="26" fill="#1f5a35"/>
<rect x="624" y="534" width="3" height="24" fill="#6eab87"/>
<rect x="632" y="513" width="1" height="30" fill="#77777a"/>
<rect x="630" y="532" width="5" height="11" fill="#5c150c"/>
<rect x="631" y="533" width="3" height="9" fill="#dc5844"/>
<rect x="639" y="425" width="1" height="117" fill="#77777a"/>
<rect x="637" y="426" width="5" height="117" fill="#1f5a35"/>
<rect x="638" y="427" width="3" height="115" fill="#6eab87"/>
<rect x="646" y="426" width="1" height="44" fill="#77777a"/>
<rect x="644" y="426" width="5" height="24" fill="#5c150c"/>
<rect x="645" y="427" width="3" height="22" fill="#dc5844"/>
<rect x="653" y="428" width="1" height="35" fill="#77777a"/>
<rect x="651" y="444" width="5" height="6" fill="#1f5a35"/>
<rect x="652" y="445" width="3" height="4" fill="#6eab87"/>
<rect x="660" y="372" width="1" height="73" fill="#77777a"/>
<rect x="658" y="400" width="5" height="45" fill="#1f5a35"/>
<rect x="659" y="401" width="3" height="43" fill="#6eab87"/>
<rect x="667" y="344" width="1" height="58" fill="#77777a"/>
<rect x="665" y="352" width="5" height="47" fill="#1f5a35"/>
<rect x="666" y="353" width="3" height="45" fill="#6eab87"/>
<rect x="674" y="309" width="1" height="44" fill="#77777a"/>
<rect x="672" y="338" width="5" height="13" fill="#1f5a35"/>
<rect x="673" y="339" width="3" height="11" fill="#6eab87"/>
<rect x="681" y="335" width="1" height="35" fill="#77777a"/>
<rect x="679" y="337" width="5" height="18" fill="#5c150c"/>
<rect x="680" y="338" width="3" height="16" fill="#dc5844"/>
<rect x="688" y="338" width="1" height="50" fill="#77777a"/>
<rect x="686" y="354" width="5" height="4" fill="#5c150c"/>
<rect x="687" y="355" width="3" height="2" fill="#dc5844"/>
<rect x="695" y="328" width="1" height="43" fill="#77777a"/>
<rect x="693" y="341" width="5" height="16" fill="#1f5a35"/>
<rect x="694" y="342" width="3" height="14" fill="#6eab87"/>
<rect x="702" y="316" width="1" height="38" fill="#77777a"/>
<rect x="700" y="332" width="5" height="10" fill="#1f5a35"/>
<rect x="701" y="333" width="3" height="8" fill="#6eab87"/>
<rect x="709" y="287" width="1" height="59" fill="#77777a"/>
<rect x="707" y="293" width="5" height="40" fill="#1f5a35"/>
<rect x="708" y="294" width="3" height="38" fill="#6eab87"/>
<rect x="716" y="291" width="1" height="29" fill="#77777a"/>
<rect x="714" y="293" width="5" height="20" fill="#5c150c"/>
<rect x="715" y="294" width="3" height="18" fill="#dc5844"/>
<rect x="723" y="289" width="1" height="53" fill="#77777a"/>
<rect x="721" y="312" width="5" height="23" fill="#5c150c"/>
<rect x="722" y="313" width="3" height="21" fill="#dc5844"/>
<rect x="730" y="316" width="1" height="43" fill="#77777a"/>
<rect x="728" y="333" width="5" height="4" fill="#5c150c"/>
<rect x="729" y="334" width="3" height="2" fill="#dc5844"/>
<rect x="737" y="320" width="1" height="22" fill="#77777a"/>
<rect x="735" y="330" width="5" height="7" fill="#1f5a35"/>
<rect x="736" y="331" width="3" height="5" fill="#6eab87"/>
<rect x="744" y="296" width="1" height="38" fill="#77777a"/>
<rect x="742" y="318" width="5" height="13" fill="#1f5a35"/>
<rect x="743" y="319" width="3" height="11" fill="#6eab87"/>
<rect x="751" y="316" width="1" height="30" fill="#77777a"/>
<rect x="749" y="318" width="5" height="28" fill="#5c150c"/>
<rect x="750" y="319" width="3" height="26" fill="#dc5844"/>
<rect x="758" y="343" width="1" height="39" fill="#77777a"/>
<rect x="756" y="345" width="5" height="16" fill="#5c150c"/>
<rect x="757" y="346" width="3" height="14" fill="#dc5844"/>
<rect x="765" y="356" width="1" height="43" fill="#77777a"/>
<rect x="763" y="360" width="5" height="36" fill="#5c150c"/>
<rect x="764" y="361" width="3" height="34" fill="#dc5844"/>
<rect x="772" y="366" width="1" height="38" fill="#77777a"/>
<rect x="770" y="380" width="5" height="16" fill="#1f5a35"/>
<rect x="771" y="381" width="3" height="14" fill="#6eab87"/>
<rect x="780" y="375" width="1" height="50" fill="#77777a"/>
<rect x="778" y="380" width="5" height="37" fill="#5c150c"/>
<rect x="779" y="381" width="3" height="35" fill="#dc5844"/>
<rect x="787" y="396" width="1" height="38" fill="#77777a"/>
<rect x="785" y="402" width="5" height="15" fill="#1f5a35"/>
<rect x="786" y="403" width="3" height="13" fill="#6eab87"/>
<rect x="794" y="357" width="1" height="57" fill="#77777a"/>
<rect x="792" y="371" width="5" height="32" fill="#1f5a35"/>
<rect x="793" y="372" width="3" height="30" fill="#6eab87"/>
<rect x="801" y="349" width="1" height="36" fill="#77777a"/>
<rect x="799" y="371" width="5" height="8" fill="#5c150c"/>
<rect x="800" y="372" width="3" height="6" fill="#dc5844"/>
<rect x="808" y="326" width="1" height="57" fill="#77777a"/>
<rect x="806" y="338" width="5" height="41" fill="#1f5a35"/>
<rect x="807" y="339" width="3" height="39" fill="#6eab87"/>
<rect x="815" y="316" width="1" height="27" fill="#77777a"/>
<rect x="813" y="338" width="5" height="1" fill="#5c150c"/>
<rect x="822" y="331" width="1" height="34" fill="#77777a"/>
<rect x="820" y="339" width="5" height="7" fill="#5c150c"/>
<rect x="821" y="340" width="3" height="5" fill="#dc5844"/>
<rect x="829" y="290" width="1" height="57" fill="#77777a"/>
<rect x="827" y="307" width="5" height="39" fill="#1f5a35"/>
<rect x="828" y="308" width="3" height="37" fill="#6eab87"/>
<rect x="836" y="292" width="1" height="35" fill="#77777a"/>
<rect x="834" y="307" width="5" height="17" fill="#5c150c"/>
<rect x="835" y="308" width="3" height="15" fill="#dc5844"/>
<rect x="843" y="306" width="1" height="19" fill="#77777a"/>
<rect x="841" y="318" width="5" height="6" fill="#1f5a35"/>
<rect x="842" y="319" width="3" height="4" fill="#6eab87"/>
<rect x="850" y="297" width="1" height="22" fill="#77777a"/>
<rect x="848" y="300" width="5" height="19" fill="#1f5a35"/>
<rect x="849" y="301" width="3" height="17" fill="#6eab87"/>
<rect x="857" y="272" width="1" height="31" fill="#77777a"/>
<rect x="855" y="279" width="5" height="16" fill="#1f5a35"/>
<rect x="856" y="280" width="3" height="14" fill="#6eab87"/>
<rect x="864" y="226" width="1" height="56" fill="#77777a"/>
<rect x="862" y="230" width="5" height="50" fill="#1f5a35"/>
<rect x="863" y="231" width="3" height="48" fill="#6eab87"/>
<rect x="871" y="209" width="1" height="29" fill="#77777a"/>
<rect x="869" y="224" width="5" height="7" fill="#1f5a35"/>
<rect x="870" y="225" width="3" height="5" fill="#6eab87"/>
<rect x="878" y="218" width="1" height="27" fill="#77777a"/>
<rect x="876" y="224" width="5" height="15" fill="#5c150c"/>
<rect x="877" y="225" width="3" height="13" fill="#dc5844"/>
<rect x="885" y="168" width="1" height="73" fill="#77777a"/>
<rect x="883" y="173" width="5" height="67" fill="#1f5a35"/>
<rect x="884" y="174" width="3" height="65" fill="#6eab87"/>
<rect x="892" y="37" width="1" height="230" fill="#77777a"/>
<rect x="890" y="173" width="5" height="79" fill="#5c150c"/>
<rect x="891" y="174" width="3" height="77" fill="#dc5844"/>
<rect x="899" y="229" width="1" height="57" fill="#77777a"/>
<rect x="897" y="251" width="5" height="19" fill="#5c150c"/>
<rect x="898" y="252" width="3" height="17" fill="#dc5844"/>
<rect x="906" y="239" width="1" height="33" fill="#77777a"/>
<rect x="904" y="258" width="5" height="12" fill="#1f5a35"/>
<rect x="905" y="259" width="3" height="10" fill="#6eab87"/>
<rect x="913" y="231" width="1" height="36" fill="#77777a"/>
<rect x="911" y="252" width="5" height="7" fill="#1f5a35"/>
<rect x="912" y="253" width="3" height="5" fill="#6eab87"/>
<rect x="920" y="242" width="1" height="71" fill="#77777a"/>
<rect x="918" y="253" width="5" height="44" fill="#5c150c"/>
<rect x="919" y="254" width="3" height="42" fill="#dc5844"/>
<rect x="927" y="290" width="1" height="57" fill="#77777a"/>
<rect x="925" y="296" width="5" height="42" fill="#5c150c"/>
<rect x="926" y="297" width="3" height="40" fill="#dc5844"/>
<rect x="935" y="310" width="1" height="35" fill="#77777a"/>
<rect x="933" y="337" width="5" height="5" fill="#5c150c"/>
<rect x="934" y="338" width="3" height="3" fill="#dc5844"/>
<rect x="942" y="254" width="1" height="99" fill="#77777a"/>
<rect x="940" y="254" width="5" height="88" fill="#1f5a35"/>
<rect x="941" y="255" width="3" height="86" fill="#6eab87"/>
<rect x="949" y="217" width="1" height="41" fill="#77777a"/>
<rect x="947" y="238" width="5" height="18" fill="#1f5a35"/>
<rect x="948" y="239" width="3" height="16" fill="#6eab87"/>
<rect x="956" y="222" width="1" height="52" fill="#77777a"/>
<rect x="954" y="240" width="5" height="29" fill="#5c150c"/>
<rect x="955" y="241" width="3" height="27" fill="#dc5844"/>
<rect x="963" y="243" width="1" height="30" fill="#77777a"/>
<rect x="961" y="255" width="5" height="14" fill="#1f5a35"/>
<rect x="962" y="256" width="3" height="12" fill="#6eab87"/>
<rect x="970" y="218" width="1" height="46" fill="#77777a"/>
<rect x="968" y="231" width="5" height="24" fill="#1f5a35"/>
<rect x="969" y="232" width="3" height="22" fill="#6eab87"/>
<rect x="977" y="225" width="1" height="29" fill="#77777a"/>
<rect x="975" y="231" width="5" height="16" fill="#5c150c"/>
<rect x="976" y="232" width="3" height="14" fill="#dc5844"/>
<rect x="984" y="220" width="1" height="29" fill="#77777a"/>
<rect x="982" y="220" width="5" height="29" fill="#1f5a35"/>
<rect x="983" y="221" width="3" height="27" fill="#6eab87"/>
<rect x="991" y="175" width="1" height="47" fill="#77777a"/>
<rect x="989" y="208" width="5" height="14" fill="#1f5a35"/>
<rect x="990" y="209" width="3" height="12" fill="#6eab87"/>
<rect x="998" y="208" width="1" height="1" fill="#77777a"/>
<rect x="996" y="208" width="5" height="1" fill="#5c150c"/>
<rect x="1005" y="178" width="1" height="29" fill="#77777a"/>
<rect x="1003" y="181" width="5" height="26" fill="#1f5a35"/>
<rect x="1004" y="182" width="3" height="24" fill="#6eab87"/>
<rect x="1012" y="150" width="1" height="42" fill="#77777a"/>
<rect x="1010" y="163" width="5" height="19" fill="#1f5a35"/>
<rect x="1011" y="164" width="3" height="17" fill="#6eab87"/>
<rect x="1019" y="143" width="1" height="43" fill="#77777a"/>
<rect x="1017" y="163" width="5" height="23" fill="#5c150c"/>
<rect x="1018" y="164" width="3" height="21" fill="#dc5844"/>
<rect x="1026" y="168" width="1" height="30" fill="#77777a"/>
<rect x="1024" y="186" width="5" height="5" fill="#5c150c"/>
<rect x="1025" y="187" width="3" height="3" fill="#dc5844"/>
<rect x="1033" y="190" width="1" height="1" fill="#77777a"/>
<rect x="1031" y="190" width="5" height="1" fill="#1f5a35"/>
<rect x="1040" y="160" width="1" height="42" fill="#77777a"/>
<rect x="1038" y="190" width="5" height="8" fill="#5c150c"/>
<rect x="1039" y="191" width="3" height="6" fill="#dc5844"/>
<rect x="1047" y="184" width="1" height="64" fill="#77777a"/>
<rect x="1045" y="197" width="5" height="33" fill="#5c150c"/>
<rect x="1046" y="198" width="3" height="31" fill="#dc5844"/>
<rect x="1054" y="211" width="1" height="27" fill="#77777a"/>
<rect x="1052" y="225" width="5" height="4" fill="#1f5a35"/>
<rect x="1053" y="226" width="3" height="2" fill="#6eab87"/>
<rect x="1061" y="188" width="1" height="71" fill="#77777a"/>
<rect x="1059" y="221" width="5" height="6" fill="#1f5a35"/>
<rect x="1060" y="222" width="3" height="4" fill="#6eab87"/>
<rect x="1068" y="219" width="1" height="53" fill="#77777a"/>
<rect x="1066" y="221" width="5" height="33" fill="#5c150c"/>
<rect x="1067" y="222" width="3" height="31" fill="#dc5844"/>
<rect x="1075" y="227" width="1" height="29" fill="#77777a"/>
<rect x="1073" y="249" width="5" height="6" fill="#1f5a35"/>
<rect x="1074" y="250" width="3" height="4" fill="#6eab87"/>
<rect x="1082" y="231" width="1" height="35" fill="#77777a"/>
<rect x="1080" y="249" width="5" height="12" fill="#5c150c"/>
<rect x="1081" y="250" width="3" height="10" fill="#dc5844"/>
<rect x="1089" y="219" width="1" height="60" fill="#77777a"/>
<rect x="1087" y="251" width="5" height="10" fill="#1f5a35"/>
<rect x="1088" y="252" width="3" height="8" fill="#6eab87"/>
<rect x="1097" y="191" width="1" height="62" fill="#77777a"/>
<rect x="1095" y="215" width="5" height="38" fill="#1f5a35"/>
<rect x="1096" y="216" width="3" height="36" fill="#6eab87"/>
<rect x="1104" y="197" width="1" height="23" fill="#77777a"/>
<rect x="1102" y="205" width="5" height="11" fill="#1f5a35"/>
<rect x="1103" y="206" width="3" height="9" fill="#6eab87"/>
<rect x="1111" y="202" width="1" height="57" fill="#77777a"/>
<rect x="1109" y="204" width="5" height="50" fill="#5c150c"/>
<rect x="1110" y="205" width="3" height="48" fill="#dc5844"/>
<rect x="1118" y="244" width="1" height="55" fill="#77777a"/>
<rect x="1116" y="253" width="5" height="41" fill="#5c150c"/>
<rect x="1117" y="254" width="3" height="39" fill="#dc5844"/>
<rect x="1125" y="261" width="1" height="33" fill="#77777a"/>
<rect x="1123" y="262" width="5" height="32" fill="#1f5a35"/>
<rect x="1124" y="263" width="3" height="30" fill="#6eab87"/>
<rect x="1132" y="232" width="1" height="34" fill="#77777a"/>
<rect x="1130" y="250" width="5" height="14" fill="#1f5a35"/>
<rect x="1131" y="251" width="3" height="12" fill="#6eab87"/>
<rect x="1139" y="245" width="1" height="28" fill="#77777a"/>
<rect x="1137" y="250" width="5" height="16" fill="#5c150c"/>
<rect x="1138" y="251" width="3" height="14" fill="#dc5844"/>
<rect x="1146" y="235" width="1" height="32" fill="#77777a"/>
<rect x="1144" y="251" width="5" height="15" fill="#1f5a35"/>
<rect x="1145" y="252" width="3" height="13" fill="#6eab87"/>
<rect x="1153" y="236" width="1" height="46" fill="#77777a"/>
<rect x="1151" y="251" width="5" height="29" fill="#5c150c"/>
<rect x="1152" y="252" width="3" height="27" fill="#dc5844"/>
<rect x="1160" y="258" width="1" height="28" fill="#77777a"/>
<rect x="1158" y="267" width="5" height="13" fill="#1f5a35"/>
<rect x="1159" y="268" width="3" height="11" fill="#6eab87"/>
<rect x="1167" y="255" width="1" height="19" fill="#77777a"/>
<rect x="1165" y="267" width="5" height="5" fill="#5c150c"/>
<rect x="1166" y="268" width="3" height="3" fill="#dc5844"/>
<rect x="1174" y="236" width="1" height="35" fill="#77777a"/>
<rect x="1172" y="244" width="5" height="27" fill="#1f5a35"/>
<rect x="1173" y="245" width="3" height="25" fill="#6eab87"/>
<rect x="1181" y="215" width="1" height="35" fill="#77777a"/>
<rect x="1179" y="237" width="5" height="10" fill="#1f5a35"/>
<rect x="1180" y="238" width="3" height="8" fill="#6eab87"/>
<rect x="1188" y="202" width="1" height="45" fill="#77777a"/>
<rect x="1186" y="233" width="5" height="5" fill="#1f5a35"/>
<rect x="1187" y="234" width="3" height="3" fill="#6eab87"/>
<rect x="1195" y="185" width="1" height="63" fill="#77777a"/>
<rect x="1193" y="205" width="5" height="28" fill="#1f5a35"/>
<rect x="1194" y="206" width="3" height="26" fill="#6eab87"/>
<rect x="1202" y="199" width="1" height="54" fill="#77777a"/>
<rect x="1200" y="204" width="5" height="29" fill="#5c150c"/>
<rect x="1201" y="205" width="3" height="27" fill="#dc5844"/>
<rect x="1209" y="228" width="1" height="49" fill="#77777a"/>
<rect x="1207" y="232" width="5" height="27" fill="#5c150c"/>
<rect x="1208" y="233" width="3" height="25" fill="#dc5844"/>
<rect x="1216" y="233" width="1" height="29" fill="#77777a"/>
<rect x="1214" y="239" width="5" height="21" fill="#1f5a35"/>
<rect x="1215" y="240" width="3" height="19" fill="#6eab87"/>
<rect x="1223" y="223" width="1" height="24" fill="#77777a"/>
<rect x="1221" y="239" width="5" height="3" fill="#5c150c"/>
<rect x="1222" y="240" width="3" height="1" fill="#dc5844"/>
<rect x="1230" y="233" width="1" height="34" fill="#77777a"/>
<rect x="1228" y="241" width="5" height="1" fill="#5c150c"/>
<rect x="1237" y="236" width="1" height="31" fill="#77777a"/>
<rect x="1235" y="242" width="5" height="19" fill="#5c150c"/>
<rect x="1236" y="243" width="3" height="17" fill="#dc5844"/>
<rect x="1244" y="249" width="1" height="33" fill="#77777a"/>
<rect x="1242" y="259" width="5" height="10" fill="#5c150c"/>
<rect x="1243" y="260" width="3" height="8" fill="#dc5844"/>
<rect x="1251" y="245" width="1" height="77" fill="#77777a"/>
<rect x="1249" y="268" width="5" height="50" fill="#5c150c"/>
<rect x="1250" y="269" width="3" height="48" fill="#dc5844"/>
<rect x="1259" y="311" width="1" height="21" fill="#77777a"/>
<rect x="1257" y="316" width="5" height="3" fill="#5c150c"/>
<rect x="1258" y="317" width="3" height="1" fill="#dc5844"/>
<rect x="1266" y="289" width="1" height="32" fill="#77777a"/>
<rect x="1264" y="296" width="5" height="23" fill="#1f5a35"/>
<rect x="1265" y="297" width="3" height="21" fill="#6eab87"/>
<rect x="1273" y="277" width="1" height="35" fill="#77777a"/>
<rect x="1271" y="280" width="5" height="18" fill="#1f5a35"/>
<rect x="1272" y="281" width="3" height="16" fill="#6eab87"/>
<rect x="1280" y="263" width="1" height="21" fill="#77777a"/>
<rect x="1278" y="271" width="5" height="10" fill="#1f5a35"/>
<rect x="1279" y="272" width="3" height="8" fill="#6eab87"/>
<rect x="1287" y="248" width="1" height="29" fill="#77777a"/>
<rect x="1285" y="260" width="5" height="12" fill="#1f5a35"/>
<rect x="1286" y="261" width="3" height="10" fill="#6eab87"/>
<rect x="1294" y="245" width="1" height="22" fill="#77777a"/>
<rect x="1292" y="257" width="5" height="4" fill="#1f5a35"/>
<rect x="1293" y="258" width="3" height="2" fill="#6eab87"/>
<rect x="1301" y="241" width="1" height="27" fill="#77777a"/>
<rect x="1299" y="257" width="5" height="4" fill="#5c150c"/>
<rect x="1300" y="258" width="3" height="2" fill="#dc5844"/>
<rect x="1308" y="229" width="1" height="45" fill="#77777a"/>
<rect x="1306" y="239" width="5" height="22" fill="#1f5a35"/>
<rect x="1307" y="240" width="3" height="20" fill="#6eab87"/>
<rect x="1315" y="236" width="1" height="22" fill="#77777a"/>
<rect x="1313" y="239" width="5" height="10" fill="#5c150c"/>
<rect x="1314" y="240" width="3" height="8" fill="#dc5844"/>
<rect x="1322" y="232" width="1" height="19" fill="#77777a"/>
<rect x="1320" y="247" width="5" height="3" fill="#5c150c"/>
<rect x="1321" y="248" width="3" height="1" fill="#dc5844"/>
<rect x="1329" y="235" width="1" height="24" fill="#77777a"/>
<rect x="1327" y="242" width="5" height="8" fill="#1f5a35"/>
<rect x="1328" y="243" width="3" height="6" fill="#6eab87"/>
<rect x="1336" y="212" width="1" height="40" fill="#77777a"/>
<rect x="1334" y="224" width="5" height="18" fill="#1f5a35"/>
<rect x="1335" y="225" width="3" height="16" fill="#6eab87"/>
<rect x="1343" y="143" width="1" height="89" fill="#77777a"/>
<rect x="1341" y="154" width="5" height="71" fill="#1f5a35"/>
<rect x="1342" y="155" width="3" height="69" fill="#6eab87"/>
<rect x="1350" y="143" width="1" height="16" fill="#77777a"/>
<rect x="1348" y="149" width="5" height="6" fill="#1f5a35"/>
<rect x="1349" y="150" width="3" height="4" fill="#6eab87"/>
</g>
<polyline points="3.0,697.2 19.7,700.5 39.4,702.5 59.1,702.1 78.8,703.9 98.5,705.1 118.2,705.8 124.1,707.2 145.8,706.2 159.5,708.2 166.4,707.0 177.3,709.4 187.1,711.4 195.0,709.4 202.9,710.8 216.7,710.8 236.4,713.5 243.3,710.0 256.1,710.2 270.8,709.0 279.7,711.0 287.6,710.6 295.9,711.4 301.8,712.0 313.6,712.3 321.5,713.9 335.3,714.9 349.1,715.5 357.0,716.7 368.8,717.5 376.7,716.5 384.5,717.3 392.4,717.1 400.3,717.5 406.2,716.5 414.1,717.1 420.0,718.3 427.9,718.1 435.8,719.2 447.6,720.0 455.5,721.4 467.3,722.0 475.1,721.8 483.0,722.4 490.9,722.8 498.8,722.0 504.7,722.6 511.6,723.6 518.5,723.0 526.4,722.6 534.2,723.4 540.1,723.4 546.1,723.0 553.9,720.6 561.8,719.2 567.7,716.9 575.6,715.7 581.5,715.7 587.9,716.5 595.8,716.7 602.7,715.3 609.5,712.9 617.4,714.1 625.3,714.1 631.6,714.3 638.7,706.4 646.0,706.2 652.9,706.6 659.8,703.7 666.7,702.1 673.6,701.7 681.4,702.5 688.3,701.9 695.2,701.7 702.1,702.1 709.0,700.7 715.9,702.1 722.8,701.3 730.1,701.3 737.0,703.3 743.9,703.7 751.0,705.1 757.3,705.3 764.2,704.9 771.1,705.3 778.9,704.5 786.8,704.3 793.7,702.7 800.6,703.3 807.5,701.9 814.4,703.3 821.9,703.9 829.2,702.5 836.1,703.3 843.0,705.7 849.8,707.2 856.7,707.8 863.6,706.4 870.5,707.0 877.9,708.0 885.0,704.9 892.1,687.7 899.2,687.5 906.2,689.5 913.3,690.9 920.4,689.3 927.3,688.7 934.6,690.3 941.9,686.2 948.8,687.1 955.9,687.5 963.0,689.3 970.1,690.1 977.1,692.3 984.2,694.2 990.9,694.6 998.0,699.2 1005.1,700.3 1012.2,700.5 1019.3,700.5 1026.0,701.9 1033.1,705.8 1040.2,705.7 1046.9,703.7 1054.0,705.1 1061.1,702.1 1068.0,700.9 1074.8,702.3 1081.9,703.1 1089.0,701.3 1096.5,699.7 1103.4,701.7 1110.3,700.5 1117.4,699.3 1124.5,700.5 1131.6,701.5 1138.7,702.9 1145.8,703.7 1152.8,703.3 1159.5,704.5 1166.9,706.2 1173.8,706.6 1180.7,707.2 1187.6,706.2 1195.5,703.9 1202.3,702.7 1209.2,702.1 1216.1,703.7 1223.0,705.3 1229.9,706.0 1236.8,706.8 1243.7,707.6 1250.6,703.9 1257.5,705.3 1264.4,706.2 1272.3,706.6 1279.2,708.0 1286.1,709.0 1293.9,710.4 1300.8,711.4 1307.7,710.2 1314.6,711.6 1321.5,712.9 1329.0,714.3 1335.9,713.1 1343.2,708.2 1349.7,710.6" fill="none" stroke="#b8262e" stroke-width="1.15" stroke-linejoin="round" />
<polyline points="3.0,765.9 11.8,768.5 18.9,773.0 25.8,780.3 32.9,774.4 40.0,762.0 47.1,769.1 54.2,781.3 61.1,789.8 68.2,794.5 75.2,787.8 82.3,782.3 89.4,783.3 96.3,784.6 103.4,783.3 110.5,776.4 117.6,772.0 124.7,769.9 131.6,771.2 138.7,774.4 145.8,768.5 152.8,768.5 159.9,761.2 166.8,749.2 173.9,744.5 181.0,745.4 188.1,748.0 195.2,740.3 202.1,743.9 209.2,748.4 216.3,753.9 223.4,756.7 230.5,757.1 237.3,754.3 244.4,760.2 251.5,761.4 258.6,758.6 265.7,765.5 272.6,772.4 279.7,777.7 286.8,776.4 293.9,777.9 300.8,785.2 307.7,786.8 314.6,784.2 321.5,782.3 329.4,781.7 336.3,782.1 343.2,782.7 350.1,781.9 357.0,780.3 363.9,778.3 369.8,776.0 377.7,769.5 384.5,766.1 391.4,767.1 398.3,762.6 405.2,755.7 412.5,748.2 420.0,748.8 426.9,749.4 433.8,750.4 440.7,756.3 447.6,762.2 455.5,762.6 462.3,761.6 469.2,761.4 476.1,766.5 483.0,769.9 490.5,772.4 497.8,764.5 504.7,758.6 511.6,757.5 518.5,756.3 525.8,768.5 532.7,766.5 539.8,771.4 546.6,782.3 553.9,796.1 560.8,799.2 567.7,794.7 575.0,795.5 582.5,790.1 588.9,784.8 595.8,781.7 602.7,778.7 609.5,772.0 617.4,769.9 624.3,767.3 631.6,765.9 638.7,757.3 646.0,755.1 652.9,754.3 659.8,749.2 666.7,746.0 673.6,744.5 680.5,748.2 687.9,751.0 695.2,751.7 702.1,752.1 709.0,751.5 715.9,752.7 722.8,754.7 730.1,756.7 737.0,756.7 743.9,755.9 751.0,758.8 757.3,762.6 764.2,767.1 771.1,769.5 779.9,776.4 786.8,778.7 793.7,773.0 800.6,770.8 807.5,764.2 814.4,759.0 821.9,763.4 829.2,753.9 836.1,754.9 843.0,755.7 849.8,752.7 856.7,747.8 863.6,740.5 870.5,740.3 877.9,745.8 885.0,742.9 891.7,745.0 898.8,757.3 906.2,757.3 912.9,757.5 920.4,763.6 927.3,771.0 934.6,773.2 941.9,765.5 948.8,756.9 955.9,760.6 963.0,762.2 970.1,758.2 977.1,759.6 984.2,756.7 990.9,750.2 998.0,753.1 1005.1,749.6 1012.2,746.4 1019.3,749.6 1026.0,752.9 1033.1,754.1 1040.2,754.3 1046.9,761.8 1054.0,763.2 1061.1,763.6 1068.0,771.0 1074.8,772.2 1081.9,775.8 1089.0,774.4 1096.5,765.9 1103.8,762.2 1110.7,773.8 1117.8,785.6 1125.1,781.3 1132.0,773.2 1138.9,775.6 1145.8,771.8 1152.8,775.4 1159.5,776.2 1166.9,774.4 1173.8,767.1 1180.7,758.6 1187.6,754.3 1195.1,748.0 1202.0,756.1 1209.2,768.1 1216.1,763.6 1223.0,760.2 1229.9,764.9 1236.8,768.1 1243.7,774.4 1250.6,785.8 1258.9,794.7 1266.0,783.8 1273.3,776.4 1280.1,770.1 1287.0,765.1 1293.9,763.2 1300.8,763.2 1307.7,760.6 1314.6,760.2 1321.5,759.6 1329.0,758.6 1335.9,750.8 1343.2,732.6 1349.7,731.7" fill="none" stroke="#2962ff" stroke-width="1.15" stroke-linejoin="round" />
<!-- axes -->
<g shape-rendering="crispEdges">
<rect x="1460" y="3" width="1" height="829" fill="#2e2e2e"/>
<rect x="3" y="804" width="1517" height="1" fill="#2e2e2e"/>
<rect x="3" y="683" width="1517" height="1" fill="#e0e3eb"/><rect x="3" y="727" width="1517" height="1" fill="#e0e3eb"/>
</g>
<text x="1468" y="670.9" class="al">1800.00</text>
<text x="1468" y="634.9" class="al">1820.00</text>
<text x="1468" y="598.9" class="al">1840.00</text>
<text x="1468" y="561.9" class="al">1860.00</text>
<text x="1468" y="525.9" class="al">1880.00</text>
<text x="1468" y="488.9" class="al">1900.00</text>
<text x="1468" y="452.9" class="al">1920.00</text>
<text x="1468" y="416.9" class="al">1940.00</text>
<text x="1468" y="379.9" class="al">1960.00</text>
<text x="1468" y="343.9" class="al">1980.00</text>
<text x="1468" y="307.9" class="al">2000.00</text>
<text x="1468" y="270.9" class="al">2020.00</text>
<text x="1468" y="234.9" class="al">2040.00</text>
<text x="1468" y="198.9" class="al">2060.00</text>
<text x="1468" y="161.9" class="al">2080.00</text>
<text x="1468" y="125.9" class="al">2100.00</text>
<text x="1468" y="89.9" class="al">2120.00</text>
<text x="1468" y="52.9" class="al">2140.00</text>
<text x="1468" y="714.6" class="al">20.00</text>
<text x="1468" y="739" class="al">250.00</text>
<text x="1468" y="769.5" class="al">0.00</text>
<text x="1468" y="799.5" class="al" textLength="41" lengthAdjust="spacingAndGlyphs">−250.00</text>
<path d="M1460 651h54a2 2 0 0 1 2 2v13a2 2 0 0 1 -2 2h-54z" fill="#000"/>
<text x="1468" y="663.7" class="bl">1804.78</text>
<path d="M1460 507h54a2 2 0 0 1 2 2v13a2 2 0 0 1 -2 2h-54z" fill="#000"/>
<text x="1468" y="519.7" class="bl">1885.03</text>
<path d="M1460 490h54a2 2 0 0 1 2 2v13a2 2 0 0 1 -2 2h-54z" fill="#000"/>
<text x="1468" y="502.7" class="bl">1893.12</text>
<path d="M1460 423h54a2 2 0 0 1 2 2v13a2 2 0 0 1 -2 2h-54z" fill="#000"/>
<text x="1468" y="435.7" class="bl">1932.49</text>
<path d="M1460 406h54a2 2 0 0 1 2 2v13a2 2 0 0 1 -2 2h-54z" fill="#000"/>
<text x="1468" y="418.7" class="bl">1939.56</text>
<path d="M1460 369h54a2 2 0 0 1 2 2v13a2 2 0 0 1 -2 2h-54z" fill="#000"/>
<text x="1468" y="381.7" class="bl">1959.74</text>
<path d="M1460 319h54a2 2 0 0 1 2 2v13a2 2 0 0 1 -2 2h-54z" fill="#000"/>
<text x="1468" y="331.7" class="bl">1987.23</text>
<path d="M1460 278h54a2 2 0 0 1 2 2v13a2 2 0 0 1 -2 2h-54z" fill="#000"/>
<text x="1468" y="290.7" class="bl">2009.75</text>
<path d="M1460 237h54a2 2 0 0 1 2 2v13a2 2 0 0 1 -2 2h-54z" fill="#000"/>
<text x="1468" y="249.7" class="bl">2032.13</text>
<path d="M1460 217h54a2 2 0 0 1 2 2v13a2 2 0 0 1 -2 2h-54z" fill="#000"/>
<text x="1468" y="229.7" class="bl">2043.61</text>
<path d="M1460 168h54a2 2 0 0 1 2 2v13a2 2 0 0 1 -2 2h-54z" fill="#000"/>
<text x="1468" y="180.7" class="bl">2070.42</text>
<path d="M1460 149h54a2 2 0 0 1 2 2v13a2 2 0 0 1 -2 2h-54z" fill="#000"/>
<text x="1468" y="161.7" class="bl">2081.00</text>
<text x="117.0" y="822" class="tl" text-anchor="middle">Jul</text>
<text x="265.0" y="822" class="tl" text-anchor="middle">Aug</text>
<text x="427.0" y="822" class="tl" text-anchor="middle">Sep</text>
<text x="575.0" y="822" class="tl" text-anchor="middle">Oct</text>
<text x="730.0" y="822" class="tl" text-anchor="middle">Nov</text>
<text x="885.0" y="822" class="tl" text-anchor="middle">Dec</text>
<text x="1033.0" y="822" class="tl" text-anchor="middle">2024</text>
<text x="1195.0" y="822" class="tl" text-anchor="middle">Feb</text>
<text x="1343.0" y="822" class="tl" text-anchor="middle">Mar</text>
<text x="1428.0" y="822" class="tl" text-anchor="middle">19</text>

<!-- symbol icon -->
<circle cx="21" cy="19" r="9" fill="#d3980f"/>
<path d="M19.8 15.3h3.2l1.3 2.8h-5.8z M16.3 19h3.4l0.9 2.9h-6.3z M22.7 19h3.5l1.8 2.9h-6.3z" fill="#fff"/>
<text x="34.3" y="24.8" font-size="15" fill="#505257" textLength="244.5" lengthAdjust="spacingAndGlyphs">CFDs on Gold (US$ / OZ) · 1D · TVC</text>
<circle cx="303" cy="19.2" r="8.7" fill="#d9f0ea"/>
<circle cx="303" cy="19.2" r="4" fill="#089981"/>
<g font-size="13" fill="#1f6b4a">
<text x="328.5" y="24" fill="#555961">O</text><text x="338.7" y="24" textLength="45" lengthAdjust="spacingAndGlyphs">2082.65</text>
<text x="390.3" y="24" fill="#555961">H</text><text x="399.8" y="24" textLength="45" lengthAdjust="spacingAndGlyphs">2088.24</text>
<text x="451.5" y="24" fill="#555961">L</text><text x="459.5" y="24" textLength="44.7" lengthAdjust="spacingAndGlyphs">2079.57</text>
<text x="510.5" y="24" fill="#555961">C</text><text x="519.5" y="24" textLength="44.7" lengthAdjust="spacingAndGlyphs">2085.13</text>
<text x="572" y="24" textLength="30" lengthAdjust="spacingAndGlyphs">+2.48</text>
<text x="608" y="24" textLength="47.5" lengthAdjust="spacingAndGlyphs">(+0.12%)</text>
</g>
<rect x="11.5" y="35.5" width="61" height="23" rx="4" fill="#fff" stroke="#f23645"/>
<text x="19" y="51.6" font-size="13" fill="#f23645" textLength="45" lengthAdjust="spacingAndGlyphs">2085.16</text>
<text x="86" y="50.8" font-size="10.5" fill="#131722" text-anchor="middle">21</text>
<rect x="100.5" y="35.5" width="61" height="23" rx="4" fill="#fff" stroke="#2962ff"/>
<text x="108" y="51.6" font-size="13" fill="#2962ff" textLength="45" lengthAdjust="spacingAndGlyphs">2085.37</text>
<text x="12" y="79.7" font-size="12.5" fill="#555961" textLength="384" lengthAdjust="spacingAndGlyphs">MA Ribbon SMA close 20 SMA close 50 SMA close 100 SMA close 200</text>
<text x="404" y="79.7" font-size="12.5" fill="#f23645" textLength="45" lengthAdjust="spacingAndGlyphs">2029.21</text>
<text x="456" y="79.7" font-size="12.5" fill="#2962ff" textLength="45" lengthAdjust="spacingAndGlyphs">2034.79</text>
<text x="507.5" y="79.2" font-size="9.5" fill="#131722">∅</text>
<text x="522" y="79.7" font-size="12.5" fill="#131722" textLength="45" lengthAdjust="spacingAndGlyphs">1969.37</text>
<rect x="12.5" y="89.5" width="28" height="20" rx="3" fill="#fff" stroke="#d1d4dc"/>
<path d="M22.5 102l4 -4l4 4" fill="none" stroke="#131722" stroke-width="1.4"/>
<!-- USD -->
<rect x="1464.5" y="7.5" width="51" height="25" rx="4" fill="#fff" stroke="#e0e3eb"/>
<text x="1468.3" y="24" font-size="12" fill="#131722" textLength="20.5" lengthAdjust="spacingAndGlyphs">USD</text>
<path d="M1505.9 19.2l2.7 2.6l2.7 -2.6" fill="none" stroke="#131722" stroke-width="1.3"/>
<!-- settings hexagon -->
<path d="M1486.2 811.5h8l4 7l-4 7h-8l-4 -7z" fill="none" stroke="#131722" stroke-width="1.2"/>
<circle cx="1490.2" cy="818.5" r="2.2" fill="none" stroke="#131722" stroke-width="1.2"/>


<rect x="7" y="693" width="115" height="16" fill="#fff" fill-opacity="0.72"/>
<text x="12.1" y="704.9" class="lg" textLength="67" lengthAdjust="spacingAndGlyphs">ATR 14 RMA</text>
<text x="88.1" y="704.9" font-size="12" fill="#b8262e" textLength="29.8" lengthAdjust="spacingAndGlyphs">20.01</text>
<rect x="7" y="736" width="158" height="19" fill="#fff" fill-opacity="0.6"/>
<text x="12.3" y="748.7" class="lg" textLength="101" lengthAdjust="spacingAndGlyphs">CCI 20 hlc3 SMA 5</text>
<text x="122.6" y="748.7" font-size="12" fill="#2962ff" textLength="38.5" lengthAdjust="spacingAndGlyphs">268.68</text>


<rect x="13" y="773" width="34" height="18" fill="#fff"/>
<g fill="#131722">
<path d="M14.9 775.2H26.9V789.8H20.9V780.9H14.9Z"/>
<circle cx="31.9" cy="777.9" r="3"/>
<path d="M38.3 775.2H44.8L39 789.8H32.3Z"/>
</g>


<defs><filter id="ws" x="-5%" y="-10%" width="115%" height="130%"><feDropShadow dx="3" dy="2.5" stdDeviation="1.2" flood-color="#444" flood-opacity="0.65"/></filter>
<filter id="bs" x="-5%" y="-10%" width="110%" height="130%"><feDropShadow dx="1.5" dy="1.5" stdDeviation="0.8" flood-color="#5a7fa8" flood-opacity="0.5"/></filter></defs>
<g transform="translate(1279,790) skewX(-13)" filter="url(#ws)">
<text x="0" y="0" font-size="60" font-weight="900" fill="#fff" fill-opacity="0.82" textLength="240" lengthAdjust="spacingAndGlyphs" style="font-family:'Liberation Sans','Noto Sans CJK SC',sans-serif">招马财经</text>
</g>
<text x="1289" y="827.5" font-size="32" font-weight="bold" font-style="italic" fill="#7cc2fc" stroke="#7cc2fc" stroke-width="1.6" opacity="0.85" textLength="222" lengthAdjust="spacing" filter="url(#bs)">zzrt01.cn</text>

</svg>
</body></html>
